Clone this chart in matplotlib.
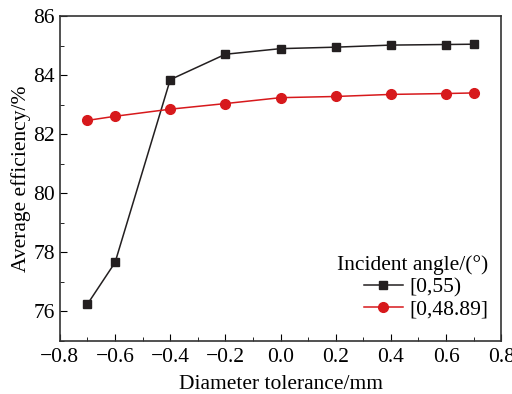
import matplotlib
matplotlib.use("Agg")
import matplotlib.pyplot as plt
from matplotlib.ticker import MultipleLocator

# diameter tolerance (mm) and average efficiency (%) for the two incident angle ranges
tolerance = [-0.7, -0.6, -0.4, -0.2, 0.0, 0.2, 0.4, 0.6, 0.7]
eff_55 = [76.25, 77.66, 83.85, 84.71, 84.90, 84.95, 85.02, 85.04, 85.05]
eff_4889 = [82.47, 82.61, 82.85, 83.04, 83.24, 83.28, 83.35, 83.38, 83.40]
series_labels = ["[0,55)", "[0,48.89]"]

plt.rcParams["font.family"] = ["Liberation Serif", "DejaVu Serif"]

fs = 15.5
fig = plt.figure(figsize=(5.12, 3.94), dpi=100)
ax = fig.add_axes([0.117, 0.1345, 0.862, 0.8245])

ax.plot(tolerance, eff_55, color="#231f20", lw=1.1, marker="s", ms=6,
        label=series_labels[0])
ax.plot(tolerance, eff_4889, color="#d7191c", lw=1.1, marker="o", ms=7,
        label=series_labels[1])

ax.set_xlim(-0.8, 0.8)
ax.set_ylim(75, 86)
ax.xaxis.set_major_locator(MultipleLocator(0.2))
ax.xaxis.set_minor_locator(MultipleLocator(0.1))
ax.yaxis.set_major_locator(MultipleLocator(2))
ax.yaxis.set_minor_locator(MultipleLocator(1))
ax.tick_params(which="both", direction="in", labelsize=fs, top=False, right=False)
ax.tick_params(which="major", length=5)
ax.tick_params(which="minor", length=3)
ax.tick_params(axis="x", pad=5)
ax.set_xticklabels([f"{v:.1f}".replace("-", "\u2212") for v in ax.get_xticks()])

ax.set_xlabel("Diameter tolerance/mm", fontsize=fs, labelpad=6)
ax.set_ylabel("Average efficiency/%", fontsize=fs, labelpad=2)

for sp in ax.spines.values():
    sp.set_color("#333333")
    sp.set_linewidth(1.2)

leg = ax.legend(title="Incident angle/(\u00b0)", loc="lower right",
                bbox_to_anchor=(0.99, 0.04), borderaxespad=0, frameon=False,
                fontsize=fs, title_fontsize=fs, handlelength=1.8,
                handletextpad=0.3, labelspacing=0.1, alignment="right")

fig.savefig("out.png", dpi=100)
